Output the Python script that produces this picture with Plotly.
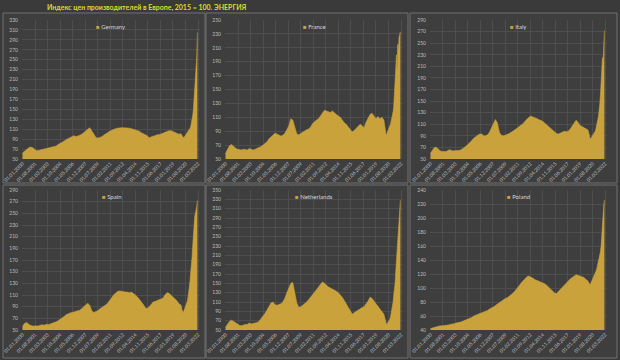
import pandas as pd
import plotly.graph_objects as go

# ---------------- data ----------------
# quarterly points 2000Q1..2019Q4, then monthly 2020-01..2022-02
dates = list(pd.date_range("2000-01-01", "2019-10-01", freq="QS")) + \
        list(pd.date_range("2020-01-01", "2022-02-01", freq="MS"))

germany = [62, 66, 70, 72, 74, 73, 70, 67, 67, 68, 69, 69, 71, 72, 72, 73,
           74, 76, 79, 81, 83, 86, 89, 91, 94, 96, 97, 95, 96, 98, 100, 104,
           107, 110, 113, 106, 98, 94, 92, 93, 95, 98, 100, 103, 106, 108, 110, 111,
           112, 113, 113, 113, 113, 112, 112, 111, 110, 109, 108, 106, 103, 101, 99, 97,
           93, 95, 96, 97, 99, 99, 100, 102, 104, 106, 107, 107, 105, 103, 101, 100,
           101, 99, 97, 94, 93, 94, 96, 97, 98, 100, 102, 104,
           106, 108, 112, 116, 122, 128, 138, 150, 170, 200, 215, 235,
           255, 305]
france = [58, 64, 69, 71, 68, 66, 64, 63, 63, 64, 64, 63, 65, 64, 63, 64,
          65, 66, 68, 70, 72, 75, 79, 82, 84, 87, 86, 84, 83, 84, 87, 92,
          98, 108, 106, 96, 86, 85, 87, 88, 90, 92, 93, 96, 101, 104, 106, 108,
          112, 116, 120, 119, 118, 117, 119, 116, 114, 112, 110, 106, 102, 100, 96, 92,
          89, 91, 94, 96, 100, 98, 95, 103, 108, 114, 116, 112, 108, 111, 108, 110,
          106, 100, 92, 86, 85, 88, 92, 94, 96, 98, 100, 104,
          108, 112, 118, 126, 140, 160, 180, 200, 175, 215, 205, 225,
          228, 233]
italy = [60, 66, 70, 70, 67, 64, 63, 63, 63, 65, 66, 64, 64, 64, 65, 65,
         67, 69, 72, 75, 78, 82, 86, 89, 91, 93, 93, 90, 90, 92, 96, 104,
         110, 118, 112, 96, 91, 90, 91, 92, 94, 96, 98, 100, 103, 106, 108, 111,
         115, 119, 122, 124, 123, 121, 120, 118, 117, 115, 112, 109, 106, 104, 101, 97,
         94, 93, 95, 96, 98, 97, 98, 102, 107, 112, 117, 113, 108, 106, 104, 103,
         100, 96, 90, 86, 85, 87, 89, 90, 91, 93, 95, 98,
         102, 106, 112, 118, 124, 132, 145, 160, 185, 210, 225, 218,
         250, 272]
spain = [56, 61, 63, 60, 58, 57, 57, 56, 57, 58, 59, 58, 60, 59, 60, 61,
         62, 64, 66, 68, 70, 73, 76, 78, 79, 80, 81, 82, 82, 84, 87, 90,
         92, 96, 92, 83, 80, 81, 83, 86, 88, 91, 93, 96, 100, 105, 110, 113,
         116, 117, 116, 116, 115, 115, 114, 115, 113, 110, 107, 103, 98, 94, 88, 87,
         90, 94, 98, 99, 101, 102, 103, 105, 110, 114, 113, 110, 106, 104, 100, 95,
         93, 88, 83, 80, 81, 84, 88, 90, 92, 95, 100, 108,
         115, 125, 135, 150, 160, 175, 195, 220, 240, 245, 250, 255,
         262, 272]
netherlands = [56, 63, 68, 71, 69, 66, 63, 60, 59, 61, 62, 62, 65, 63, 64, 65,
               66, 69, 74, 80, 86, 93, 100, 108, 110, 104, 103, 105, 106, 110, 118, 130,
               140, 150, 152, 130, 108, 99, 100, 103, 106, 110, 115, 120, 126, 131, 136, 142,
               148, 153, 150, 145, 142, 140, 138, 135, 133, 130, 126, 120, 113, 106, 98, 90,
               84, 87, 90, 93, 96, 98, 100, 105, 112, 120, 118, 112, 106, 100, 95, 88,
               84, 78, 70, 63, 62, 64, 66, 68, 70, 73, 78, 85,
               92, 100, 110, 125, 135, 150, 175, 200, 228, 250, 270, 300,
               318, 328]
poland = [42, 43, 44, 45, 45, 46, 46, 46, 47, 47, 48, 48, 49, 50, 50, 51,
          52, 53, 55, 56, 57, 58, 60, 61, 62, 64, 65, 66, 67, 68, 70, 71,
          73, 75, 77, 79, 81, 84, 85, 86, 88, 90, 93, 96, 99, 103, 107, 110,
          113, 116, 117, 116, 114, 112, 111, 110, 109, 108, 106, 104, 101, 98, 96, 93,
          92, 95, 99, 102, 105, 108, 110, 113, 115, 117, 119, 118, 117, 116, 115, 112,
          110, 108, 106, 105, 106, 108, 110, 112, 114, 116, 118, 120,
          123, 126, 130, 134, 138, 142, 146, 152, 160, 180, 200, 210,
          218, 226]

countries = ["Germany", "France", "Italy", "Spain", "Netherlands", "Poland"]
series = [germany, france, italy, spain, netherlands, poland]
y_ranges = [(50, 330), (50, 250), (50, 290), (50, 290), (50, 350), (40, 240)]
title_text = "Индекс цен производителей в Европе, 2015 = 100. ЭНЕРГИЯ"

# ---------------- styling / layout ----------------
W, H = 620, 360
FILL = "#c9a23c"
FONT = "Lato"
TICK_COLOR = "#bdbdbd"
GRID = "#4e4e4e"

col_px = [(22, 200), (225, 403), (430, 607)]
row_px = [(20, 159), (190, 330)]
panel_px = [(3, 13, 205, 183), (206, 13, 408, 183), (410, 13, 617, 183),
            (3, 185, 205, 358), (206, 185, 408, 358), (410, 185, 617, 358)]

fig = go.Figure()
layout = dict(
    width=W, height=H,
    margin=dict(l=0, r=0, t=0, b=0, autoexpand=False),
    paper_bgcolor="#3a3a3a",
    plot_bgcolor="#404040",
    showlegend=False,
    font=dict(family=FONT, color=TICK_COLOR, size=5),
)

shapes = []
for (x0, y0, x1, y1) in panel_px:
    shapes.append(dict(type="rect", xref="paper", yref="paper",
                       x0=x0 / W, x1=x1 / W, y0=1 - y1 / H, y1=1 - y0 / H,
                       fillcolor="#3e3e3e", line=dict(color="#707070", width=1),
                       layer="below"))
layout["shapes"] = shapes

annotations = [dict(
    text="<b>" + title_text + "</b>", xref="paper", yref="paper",
    x=45 / W, y=1 - 1 / H, xanchor="left", yanchor="top", showarrow=False,
    font=dict(size=7, color="#dcdc2a", family=FONT))]

for i, (name, vals, yr) in enumerate(zip(countries, series, y_ranges)):
    r, c = divmod(i, 3)
    n = i + 1
    xa = "x" if n == 1 else f"x{n}"
    ya = "y" if n == 1 else f"y{n}"
    fig.add_trace(go.Scatter(
        x=dates, y=vals, name=name, mode="lines",
        line=dict(color=FILL, width=0.6), fill="tozeroy", fillcolor=FILL,
        xaxis=xa, yaxis=ya, hoverinfo="x+y"))
    cx0, cx1 = col_px[c]
    ry0, ry1 = row_px[r]
    xkey = "xaxis" if n == 1 else f"xaxis{n}"
    ykey = "yaxis" if n == 1 else f"yaxis{n}"
    layout[xkey] = dict(
        domain=[cx0 / W, cx1 / W], anchor=ya, type="date",
        range=["1999-12-10", "2022-06-01"],
        tickmode="linear", tick0="2000-01-01", dtick="M19",
        tickformat="%d.%m.%Y", tickangle=-45, automargin=False,
        tickfont=dict(size=5, color=TICK_COLOR, family=FONT),
        showgrid=True, gridcolor=GRID, gridwidth=0.6,
        zeroline=False, showline=False, ticks="")
    layout[ykey] = dict(
        domain=[1 - ry1 / H, 1 - ry0 / H], anchor=xa, automargin=False,
        range=list(yr), tickmode="linear", tick0=yr[0], dtick=20,
        tickfont=dict(size=5, color=TICK_COLOR, family=FONT),
        showgrid=True, gridcolor=GRID, gridwidth=0.6,
        zeroline=False, showline=False, ticks="", ticklabelstandoff=3)
    # legend-style label (small colour square + series name)
    annotations.append(dict(
        text=f"<span style='color:{FILL}'>■</span> {name}",
        xref="paper", yref="paper",
        x=(cx0 + cx1) / 2 / W, y=1 - (ry0 + 1) / H,
        xanchor="center", yanchor="top", showarrow=False,
        font=dict(size=6, color="#d4d4d4", family=FONT)))

layout["annotations"] = annotations
fig.update_layout(**layout)
fig.write_html("out.html", config={"displayModeBar": False},
               post_script="document.body.style.margin='0';document.body.style.overflow='hidden';")
